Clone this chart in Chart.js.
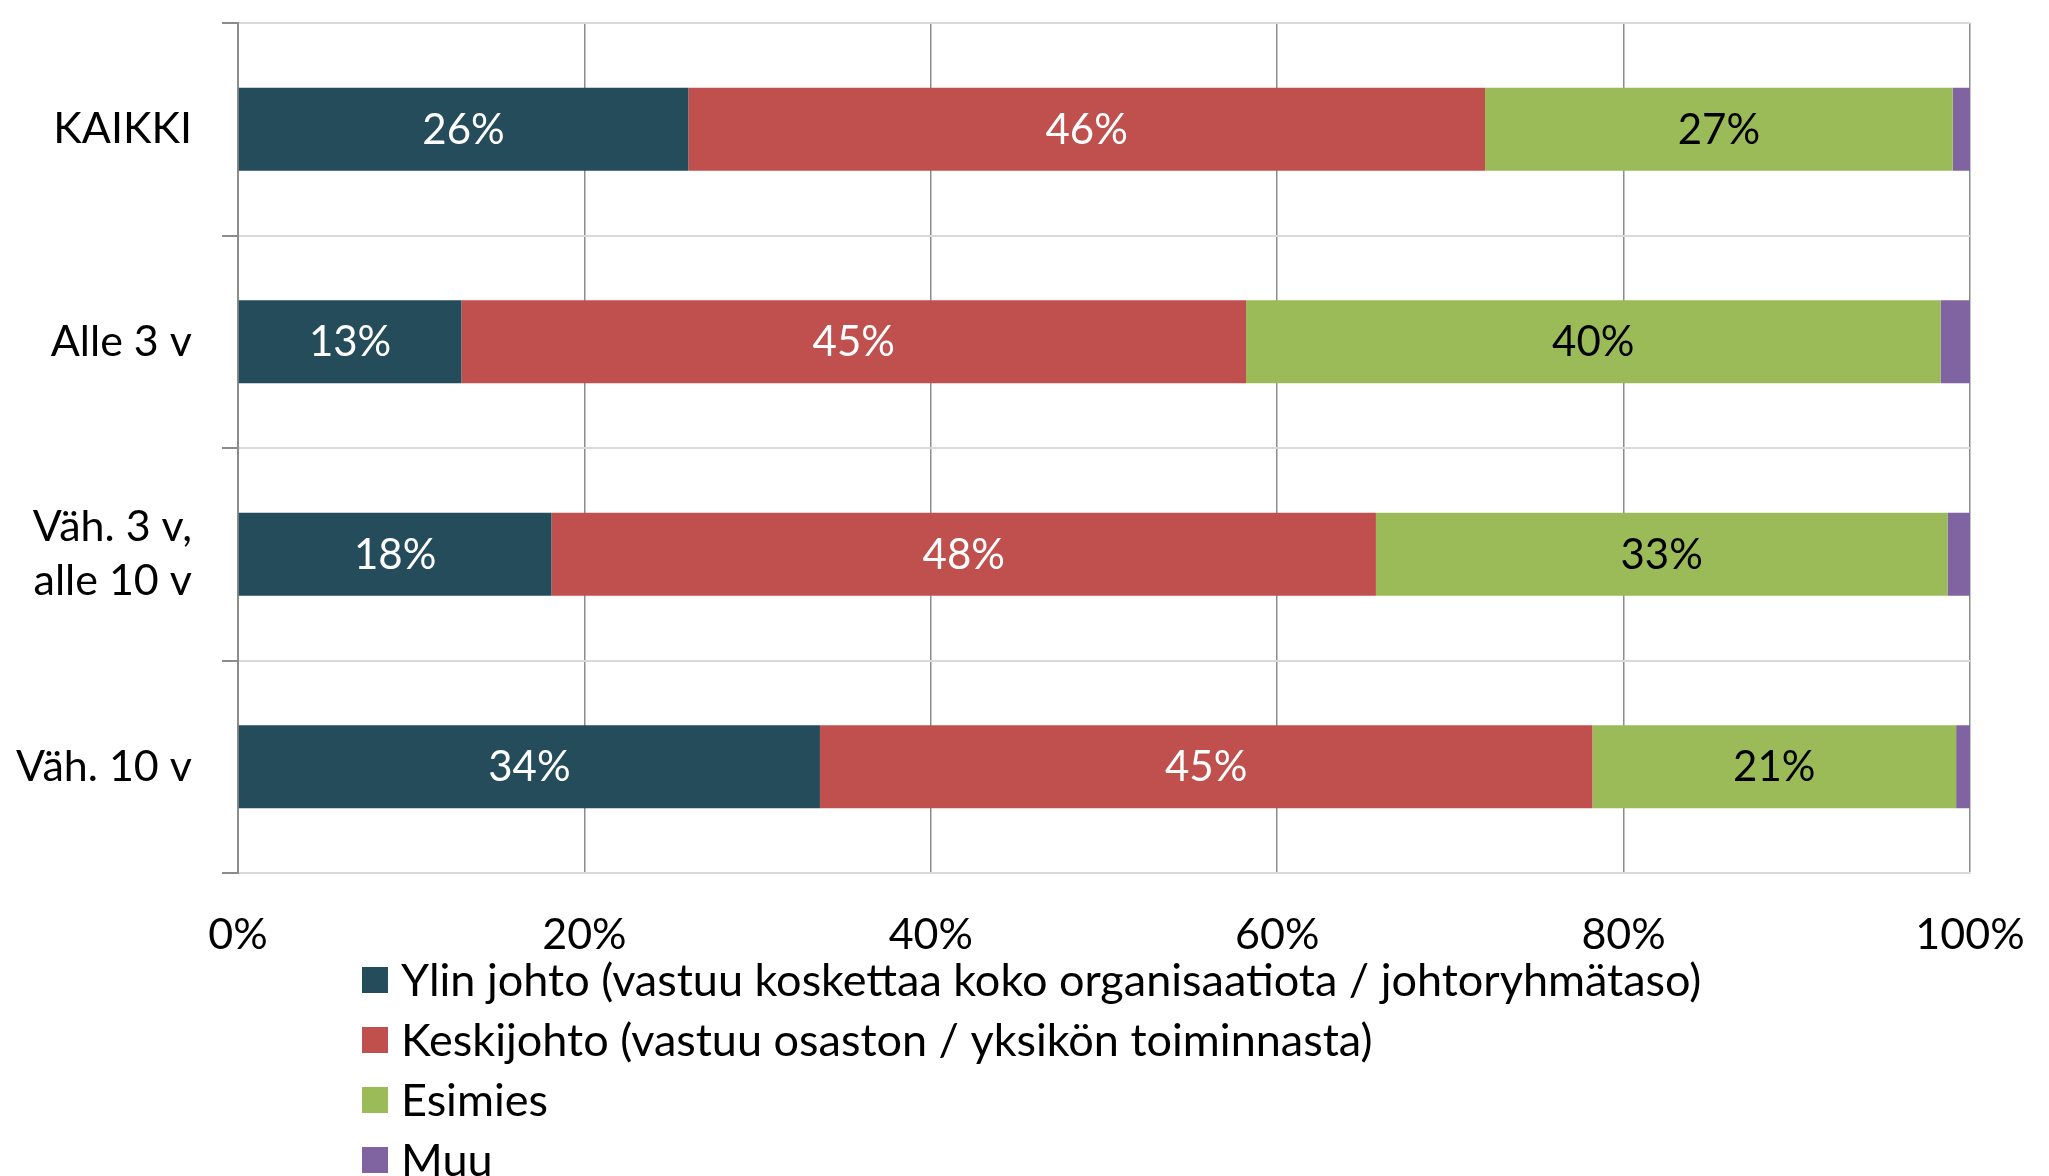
<!DOCTYPE html>
<html><head><meta charset="utf-8">
<script src="https://cdn.jsdelivr.net/npm/chart.js@4/dist/chart.umd.min.js"></script>
<style>html,body{margin:0;padding:0;background:#fff;overflow:hidden}</style></head>
<body><canvas id="c" width="2049" height="1176" style="width:2049px;height:1176px;display:block"></canvas>
<script>
const categories = [['KAIKKI'], ['Alle 3 v'], ['Väh. 3 v,', 'alle 10 v'], ['Väh. 10 v']];
const seriesNames = [
  'Ylin johto (vastuu koskettaa koko organisaatiota / johtoryhmätaso)',
  'Keskijohto (vastuu osaston / yksikön toiminnasta)',
  'Esimies',
  'Muu'
];
const ylinJohto = [26.0, 12.9, 18.1, 33.6];
const keskijohto = [46.0, 45.3, 47.6, 44.6];
const esimies = [27.0, 40.1, 33.0, 21.0];
const muu = [1.0, 1.7, 1.3, 0.8];
const xTicks = [0, 20, 40, 60, 80, 100];

const FONT = 'Lato';
const colors = ['#244C5A', '#C0504D', '#9BBB59', '#8064A2'];
const labelColors = ['#ffffff', '#ffffff', '#000000', null];

const dataLabels = {
  id: 'dataLabels',
  afterDatasetsDraw(chart) {
    const ctx = chart.ctx;
    ctx.save();
    ctx.font = '42px ' + FONT;
    ctx.textAlign = 'center';
    ctx.textBaseline = 'middle';
    chart.data.datasets.forEach((ds, di) => {
      if (!labelColors[di]) return;
      const meta = chart.getDatasetMeta(di);
      meta.data.forEach((bar, i) => {
        const cx = (bar.x + bar.base) / 2;
        ctx.fillStyle = labelColors[di];
        ctx.fillText(Math.round(ds.data[i]) + '%', cx, bar.y + 1);
      });
    });
    ctx.restore();
  }
};

const stackLegend = {
  id: 'stackLegend',
  afterDraw(chart) {
    const ctx = chart.ctx;
    ctx.save();
    ctx.font = '45px ' + FONT;
    ctx.textAlign = 'left';
    ctx.textBaseline = 'middle';
    const x0 = 362, y0 = 980, step = 60, box = 26;
    chart.data.datasets.forEach((ds, i) => {
      const y = y0 + i * step;
      ctx.fillStyle = ds.backgroundColor;
      ctx.fillRect(x0, y - box / 2, box, box);
      ctx.fillStyle = '#000';
      ctx.fillText(ds.label, x0 + 39, y + 1);
    });
    ctx.restore();
  }
};

const series = [ylinJohto, keskijohto, esimies, muu];
new Chart(document.getElementById('c'), {
  type: 'bar',
  data: {
    labels: categories,
    datasets: series.map((d, i) => ({
      label: seriesNames[i],
      data: d,
      backgroundColor: colors[i],
      borderWidth: 0,
      categoryPercentage: 1,
      barPercentage: 0.39
    }))
  },
  options: {
    indexAxis: 'y',
    responsive: false,
    animation: false,
    layout: { padding: { top: 23, right: 79, left: 0, bottom: 0 } },
    plugins: { legend: { display: false }, tooltip: { enabled: false } },
    scales: {
      x: {
        stacked: true,
        min: 0, max: 100,
        afterBuildTicks: (s) => { s.ticks = xTicks.map(v => ({ value: v })); },
        ticks: { callback: v => v + '%', color: '#000', font: { family: FONT, size: 43 }, padding: 36, maxRotation: 0 },
        grid: { color: '#8c8c8c', lineWidth: 1.5, drawTicks: false },
        border: { color: '#d9d9d9', width: 2 },
        afterFit: (s) => { s.height = 303; s.paddingLeft = 0; s.paddingRight = 0; }
      },
      y: {
        stacked: true,
        ticks: { color: '#000', font: { family: FONT, size: 43, lineHeight: 1.26 }, padding: 30 },
        grid: { offset: true, color: '#d9d9d9', lineWidth: 2, tickColor: '#8c8c8c', tickLength: 16 },
        border: { color: '#8c8c8c', width: 2 },
        afterFit: (s) => { s.width = 238; s.paddingTop = 0; s.paddingBottom = 0; }
      }
    }
  },
  plugins: [dataLabels, stackLegend]
});
</script></body></html>
